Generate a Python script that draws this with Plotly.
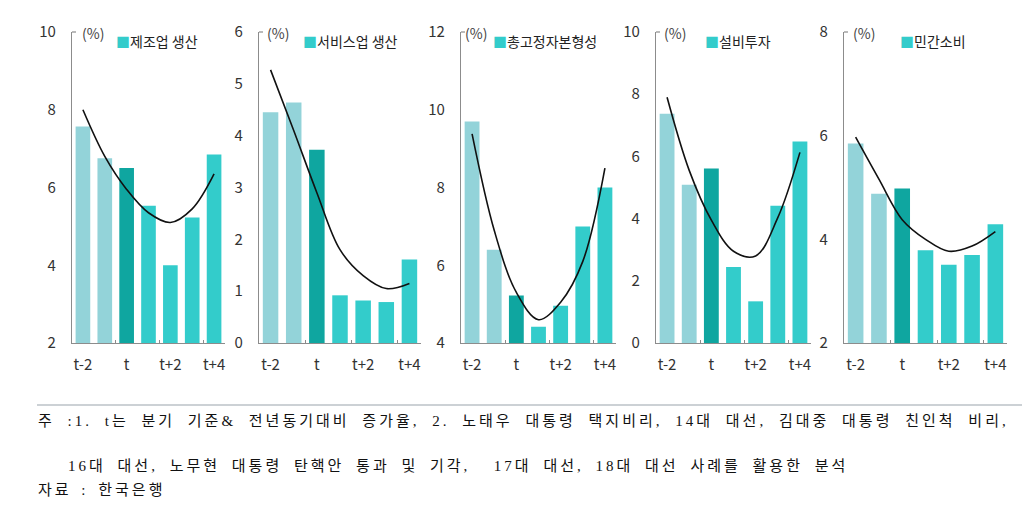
import plotly.graph_objects as go

OFF = 8  # default page body margin
W, H = 1030 - 2 * OFF, 510 - 2 * OFF

categories = [0, 1, 2, 3, 4, 5, 6]
tick_vals = [0, 2, 4, 6]
tick_text = ["t-2", "t", "t+2", "t+4"]

titles = ["제조업 생산", "서비스업 생산", "총고정자본형성", "설비투자", "민간소비"]

bars_mfg = [7.57, 6.75, 6.50, 5.53, 4.00, 5.23, 6.85]
bars_svc = [4.45, 4.64, 3.73, 0.92, 0.82, 0.79, 1.61]
bars_gfcf = [9.70, 6.40, 5.22, 4.42, 4.96, 7.00, 8.00]
bars_eqp = [7.37, 5.09, 5.61, 2.44, 1.34, 4.41, 6.48]
bars_cons = [5.85, 4.88, 4.98, 3.79, 3.51, 3.70, 4.29]

trend_mfg = [8.00, 6.80, 5.95, 5.35, 5.10, 5.45, 6.35]
trend_svc = [5.27, 4.10, 2.90, 1.80, 1.30, 1.05, 1.15]
trend_gfcf = [9.38, 6.90, 5.30, 4.60, 5.05, 6.10, 8.50]
trend_eqp = [7.90, 5.55, 3.95, 2.95, 2.80, 4.03, 6.13]
trend_cons = [5.97, 5.16, 4.38, 4.00, 3.77, 3.87, 4.15]

y_ranges = [[2, 10], [0, 6], [4, 12], [0, 10], [2, 8]]
y_dticks = [2, 1, 2, 2, 2]

note_lines = [
    "주 :1. t는 분기 기준& 전년동기대비 증가율, 2. 노태우 대통령 택지비리, 14대 대선, 김대중 대통령 친인척 비리,",
    "16대 대선, 노무현 대통령 탄핵안 통과 및 기각,  17대 대선, 18대 대선 사례를 활용한 분석",
    "자료 : 한국은행",
]

bar_sets = [bars_mfg, bars_svc, bars_gfcf, bars_eqp, bars_cons]
trend_sets = [trend_mfg, trend_svc, trend_gfcf, trend_eqp, trend_cons]

C_LIGHT = "#93d3d9"
C_DARK = "#0fa6a0"
C_CYAN = "#33cccb"
bar_colors = [C_LIGHT, C_LIGHT, C_DARK, C_CYAN, C_CYAN, C_CYAN, C_CYAN]

# panel pixel geometry in window coords (left, right), common top/bottom
panels_px = [(72, 225), (259, 421), (461, 616), (656, 811), (844, 1007)]
top_px, bot_px = 32, 343
pct_x = [80, 265, 463, 662, 851]
leg_x = [114, 301, 491, 703, 898]
# (x, y, letter-spacing, word-spacing)
note_pos = [(36, 421, 3, 6), (66, 466, 3, 5), (36, 490, 3, 3)]

def px(x):
    return (x - OFF) / W

def py(y):
    return 1 - (y - OFF) / H

FONT = "Liberation Sans Narrow, Noto Sans CJK KR, sans-serif"
KFONT = "Noto Sans CJK KR, sans-serif"
NFONT = "Liberation Serif, Noto Sans CJK KR, serif"

fig = go.Figure()
layout = dict(
    template="none",
    width=W, height=H,
    margin=dict(l=0, r=0, t=0, b=0, pad=0, autoexpand=False),
    paper_bgcolor="white", plot_bgcolor="white",
    showlegend=False, bargap=0.33,
    font=dict(family=FONT, size=14, color="#333333"),
)
annotations = []
shapes = []

for i in range(5):
    xa = "x" if i == 0 else f"x{i+1}"
    ya = "y" if i == 0 else f"y{i+1}"
    xkey = "xaxis" if i == 0 else f"xaxis{i+1}"
    ykey = "yaxis" if i == 0 else f"yaxis{i+1}"
    l, r = panels_px[i]
    fig.add_trace(go.Bar(x=categories, y=bar_sets[i], marker=dict(color=bar_colors, line=dict(width=0)),
                         xaxis=xa, yaxis=ya, hoverinfo="y"))
    fig.add_trace(go.Scatter(x=categories, y=trend_sets[i], mode="lines",
                             line=dict(color="#111111", width=1.6, shape="spline", smoothing=1.0),
                             xaxis=xa, yaxis=ya, hoverinfo="skip"))
    layout[xkey] = dict(
        domain=[px(l), px(r)], anchor=ya, range=[-0.5, 6.5], automargin=False,
        tickmode="array", tickvals=tick_vals, ticktext=tick_text,
        showline=True, linecolor="#8c8c8c", linewidth=1.2,
        ticks="", showgrid=False, zeroline=False,
        ticklabelstandoff=8,
        tickfont=dict(family=FONT, size=15, color="#333333"),
        minor=dict(tickmode="array", tickvals=[1.5, 3.5, 5.5], ticks="inside",
                   ticklen=3, tickcolor="#8c8c8c", tickwidth=1, showgrid=False),
        fixedrange=True,
    )
    layout[ykey] = dict(
        domain=[py(bot_px), py(top_px)], anchor=xa, range=y_ranges[i], automargin=False,
        tickmode="linear", dtick=y_dticks[i], tick0=y_ranges[i][0],
        showline=True, linecolor="#8c8c8c", linewidth=1.2,
        ticks="", showgrid=False, zeroline=False,
        ticklabelstandoff=12,
        tickfont=dict(family=FONT, size=15, color="#333333"),
        fixedrange=True,
    )
    shapes.append(dict(type="line", xref="paper", yref="paper",
                       x0=px(l), x1=px(l + 4), y0=py(top_px), y1=py(top_px),
                       line=dict(color="#8c8c8c", width=1.2)))
    annotations.append(dict(text="(%)", xref="paper", yref="paper",
                            x=px(pct_x[i]), y=py(21), xanchor="left", yanchor="top",
                            showarrow=False, font=dict(family=FONT, size=14, color="#444444")))
    annotations.append(dict(text=f'<span style="color:{C_CYAN}">■</span>{titles[i]}',
                            xref="paper", yref="paper",
                            x=px(leg_x[i]), y=py(29), xanchor="left", yanchor="top",
                            showarrow=False, font=dict(family=KFONT, size=14, color="#222222")))

shapes.append(dict(type="line", xref="paper", yref="paper",
                   x0=px(37), x1=px(1022), y0=py(405), y1=py(405),
                   line=dict(color="#9aa3ab", width=1.2)))

for t, (x, y, ls, ws) in zip(note_lines, note_pos):
    annotations.append(dict(text=f'<span style="letter-spacing:{ls}px;word-spacing:{ws}px">{t}</span>',
                            xref="paper", yref="paper", x=px(x), y=py(y),
                            xanchor="left", yanchor="middle", showarrow=False,
                            font=dict(family=NFONT, size=15, color="#111111")))

layout["annotations"] = annotations
layout["shapes"] = shapes
fig.update_layout(**layout)
fig.write_html("out.html")
